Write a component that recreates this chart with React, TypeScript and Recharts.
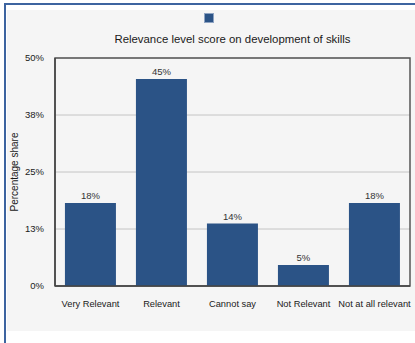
import React from "react";
import {
  BarChart,
  Bar,
  XAxis,
  YAxis,
  CartesianGrid,
  LabelList,
  Legend,
  ReferenceArea,
  Label,
} from "recharts";

const categories = [
  "Very Relevant",
  "Relevant",
  "Cannot say",
  "Not Relevant",
  "Not at all relevant",
];
const shares = [18.2, 45.4, 13.7, 4.6, 18.2];
const yTicks = [0, 12.5, 25, 37.5, 50];

const title = "Relevance level score on development of skills";
const yLabel = "Percentage share";

const data = categories.map((c, i) => ({ category: c, share: shares[i] }));

const FONT = "'Liberation Sans', Arial, Helvetica, sans-serif";
const BAR = "#2b5386";

const pct = (v: number) => `${Math.round(v)}%`;

const LegendSquare = () => (
  <div style={{ textAlign: "center", lineHeight: 0 }}>
    <span
      style={{
        display: "inline-block",
        width: 8,
        height: 8,
        background: BAR,
        border: "1px solid #8ea3c2",
      }}
    />
  </div>
);

export default function App() {
  return (
    <div
      style={{
        position: "absolute",
        left: 0,
        top: 0,
        width: 415,
        height: 343,
        background: "#ffffff",
        overflow: "hidden",
      }}
    >
      <div
        style={{
          position: "absolute",
          left: 4,
          top: 3,
          width: 411,
          height: 340,
          borderTop: "2px solid #3d64a0",
          borderLeft: "2px solid #3d64a0",
          boxSizing: "border-box",
        }}
      />
      <div
        style={{
          position: "absolute",
          left: 7,
          top: 10,
          width: 408,
          height: 321,
          background: "#f5f5f5",
        }}
      />
      <div
        style={{
          position: "absolute",
          left: 55,
          width: 355,
          top: 33,
          textAlign: "center",
          fontFamily: FONT,
          fontSize: 11.4,
          color: "#1a1a1a",
        }}
      >
        {title}
      </div>
      <div style={{ position: "absolute", left: 0, top: 0 }}>
        <BarChart
          width={415}
          height={343}
          data={data}
          margin={{ top: 58, right: 5, bottom: 40, left: 10 }}
          barCategoryGap="14%"
          style={{ fontFamily: FONT }}
        >
          <CartesianGrid vertical={false} stroke="#c4c4c4" />
          <ReferenceArea
            y1={0}
            y2={50}
            fill="none"
            stroke="#555"
            strokeWidth={1.5}
            fillOpacity={0}
          />
          <XAxis
            dataKey="category"
            tickLine={false}
            axisLine={{ stroke: "#444", strokeWidth: 1.5 }}
            tick={{ fontSize: 9.3, fill: "#1a1a1a" }}
            tickMargin={8}
            interval={0}
            height={17}
          />
          <YAxis
            domain={[0, 50]}
            ticks={yTicks}
            tickFormatter={pct}
            tickLine={false}
            axisLine={{ stroke: "#444", strokeWidth: 1.5 }}
            tick={{ fontSize: 9.5, fill: "#1a1a1a" }}
            tickMargin={5}
            width={45}
          >
            <Label
              value={yLabel}
              angle={-90}
              position="insideLeft"
              offset={4}
              style={{ fontSize: 10, fill: "#1a1a1a", textAnchor: "middle" }}
            />
          </YAxis>
          <Legend
            verticalAlign="middle"
            align="center"
            content={LegendSquare}
            wrapperStyle={{ top: 13, left: 6, width: 405, height: 10 }}
          />
          <Bar dataKey="share" fill={BAR} isAnimationActive={false}>
            <LabelList
              dataKey="share"
              position="top"
              offset={4}
              formatter={(v: number) => pct(v)}
              style={{ fontSize: 9.5, fill: "#333" }}
            />
          </Bar>
        </BarChart>
      </div>
    </div>
  );
}
